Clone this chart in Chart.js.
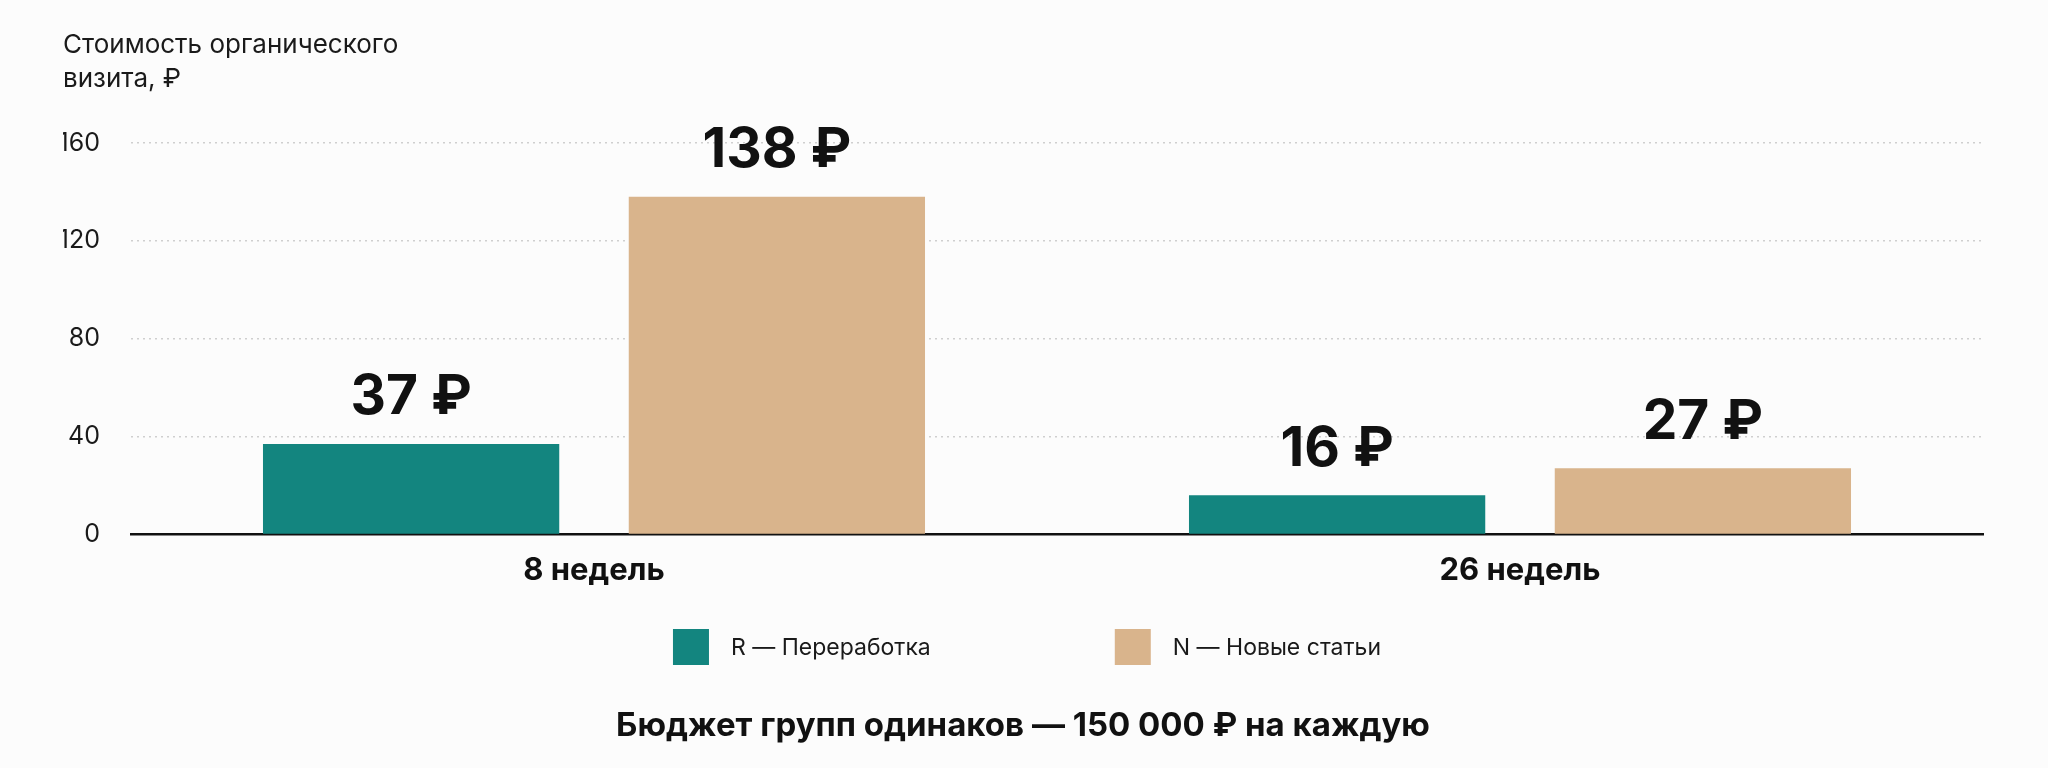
<!DOCTYPE html>
<html>
<head>
<meta charset="utf-8">
<script src="https://cdn.jsdelivr.net/npm/chart.js@4.4.1/dist/chart.umd.min.js"></script>
<style>
  html, body { margin: 0; padding: 0; background: #fcfcfc; }
  #wrap { width: 2048px; height: 768px; }
</style>
</head>
<body>
<div id="wrap"><canvas id="c" width="2048" height="768"></canvas></div>
<script>
const categories = ['8 недель', '26 недель'];
const seriesNames = ['R — Переработка', 'N — Новые статьи'];
const seriesR = [37, 16];
const seriesN = [138, 27];
const yTicks = [0, 40, 80, 120, 160];
const yTitle = ['Стоимость органического', 'визита, ₽'];
const bottomTitle = 'Бюджет групп одинаков — 150 000 ₽ на каждую';
const currency = '₽';

const FONT = 'Inter, "Noto Sans", sans-serif';
const colors = ['#13857f', '#d9b48c'];

const valueLabels = {
  id: 'valueLabels',
  afterDatasetsDraw(chart) {
    const ctx = chart.ctx;
    ctx.save();
    ctx.font = '700 55px ' + FONT;
    ctx.fillStyle = '#111111';
    ctx.textAlign = 'center';
    ctx.textBaseline = 'middle';
    chart.data.datasets.forEach((ds, di) => {
      const meta = chart.getDatasetMeta(di);
      meta.data.forEach((el, i) => {
        ctx.fillText(ds.data[i] + ' ' + currency, el.x, el.y - 46);
      });
    });
    ctx.restore();
  }
};

const customLegend = {
  id: 'customLegend',
  afterDraw(chart) {
    const ctx = chart.ctx;
    ctx.save();
    ctx.font = '400 23px ' + FONT;
    const box = 36, gapText = 22, gapItem = 184;
    const items = chart.data.datasets.map(ds => ({
      label: ds.label, color: ds.backgroundColor, w: box + gapText + ctx.measureText(ds.label).width
    }));
    const total = items.reduce((s, it) => s + it.w, 0) + gapItem * (items.length - 1);
    let x = chart.width / 2 + 3 - total / 2;
    const yTop = 629;
    items.forEach(it => {
      ctx.fillStyle = it.color;
      ctx.fillRect(x, yTop, box, box);
      ctx.fillStyle = '#1a1a1a';
      ctx.textAlign = 'left';
      ctx.textBaseline = 'middle';
      ctx.fillText(it.label, x + box + gapText, yTop + box / 2 + 1);
      x += it.w + gapItem;
    });
    ctx.restore();
  }
};

new Chart(document.getElementById('c'), {
  type: 'bar',
  data: {
    labels: categories,
    datasets: [
      { label: seriesNames[0], data: seriesR, backgroundColor: colors[0] },
      { label: seriesNames[1], data: seriesN, backgroundColor: colors[1] }
    ]
  },
  options: {
    responsive: false,
    animation: false,
    devicePixelRatio: 1,
    categoryPercentage: 0.79,
    barPercentage: 0.81,
    layout: { padding: { left: 63, right: 65, top: 28, bottom: 0 } },
    plugins: {
      legend: { display: false },
      tooltip: { enabled: false },
      subtitle: {
        display: true,
        position: 'top',
        align: 'start',
        text: yTitle,
        color: '#1a1a1a',
        font: { family: FONT, size: 26, weight: '400', lineHeight: 34 / 26 },
        padding: { top: 0, bottom: 47 }
      },
      title: {
        display: true,
        position: 'bottom',
        align: 'center',
        text: bottomTitle,
        color: '#111111',
        font: { family: FONT, size: 33, weight: '700', lineHeight: 1.2 },
        padding: { top: 0, bottom: 22 }
      }
    },
    scales: {
      x: {
        grid: { display: false, drawTicks: false },
        border: { display: true, color: '#111111', width: 2.5 },
        ticks: {
          color: '#111111',
          padding: 18,
          font: { family: FONT, size: 31, weight: '700' }
        },
        afterFit(scale) { scale.height = 172; }
      },
      y: {
        min: 0,
        max: 160,
        afterBuildTicks(scale) { scale.ticks = yTicks.map(v => ({ value: v })); },
        grid: {
          color: ctx => ctx.tick && ctx.tick.value === 0 ? 'rgba(0,0,0,0)' : '#cfcfcf',
          lineWidth: 1.5,
          drawTicks: false
        },
        border: { display: false, dash: [2, 4] },
        ticks: {
          color: '#1a1a1a',
          padding: 31,
          font: { family: FONT, size: 25, weight: '400' }
        },
        afterFit(scale) { scale.width = 68; }
      }
    }
  },
  plugins: [valueLabels, customLegend]
});
</script>
</body>
</html>
